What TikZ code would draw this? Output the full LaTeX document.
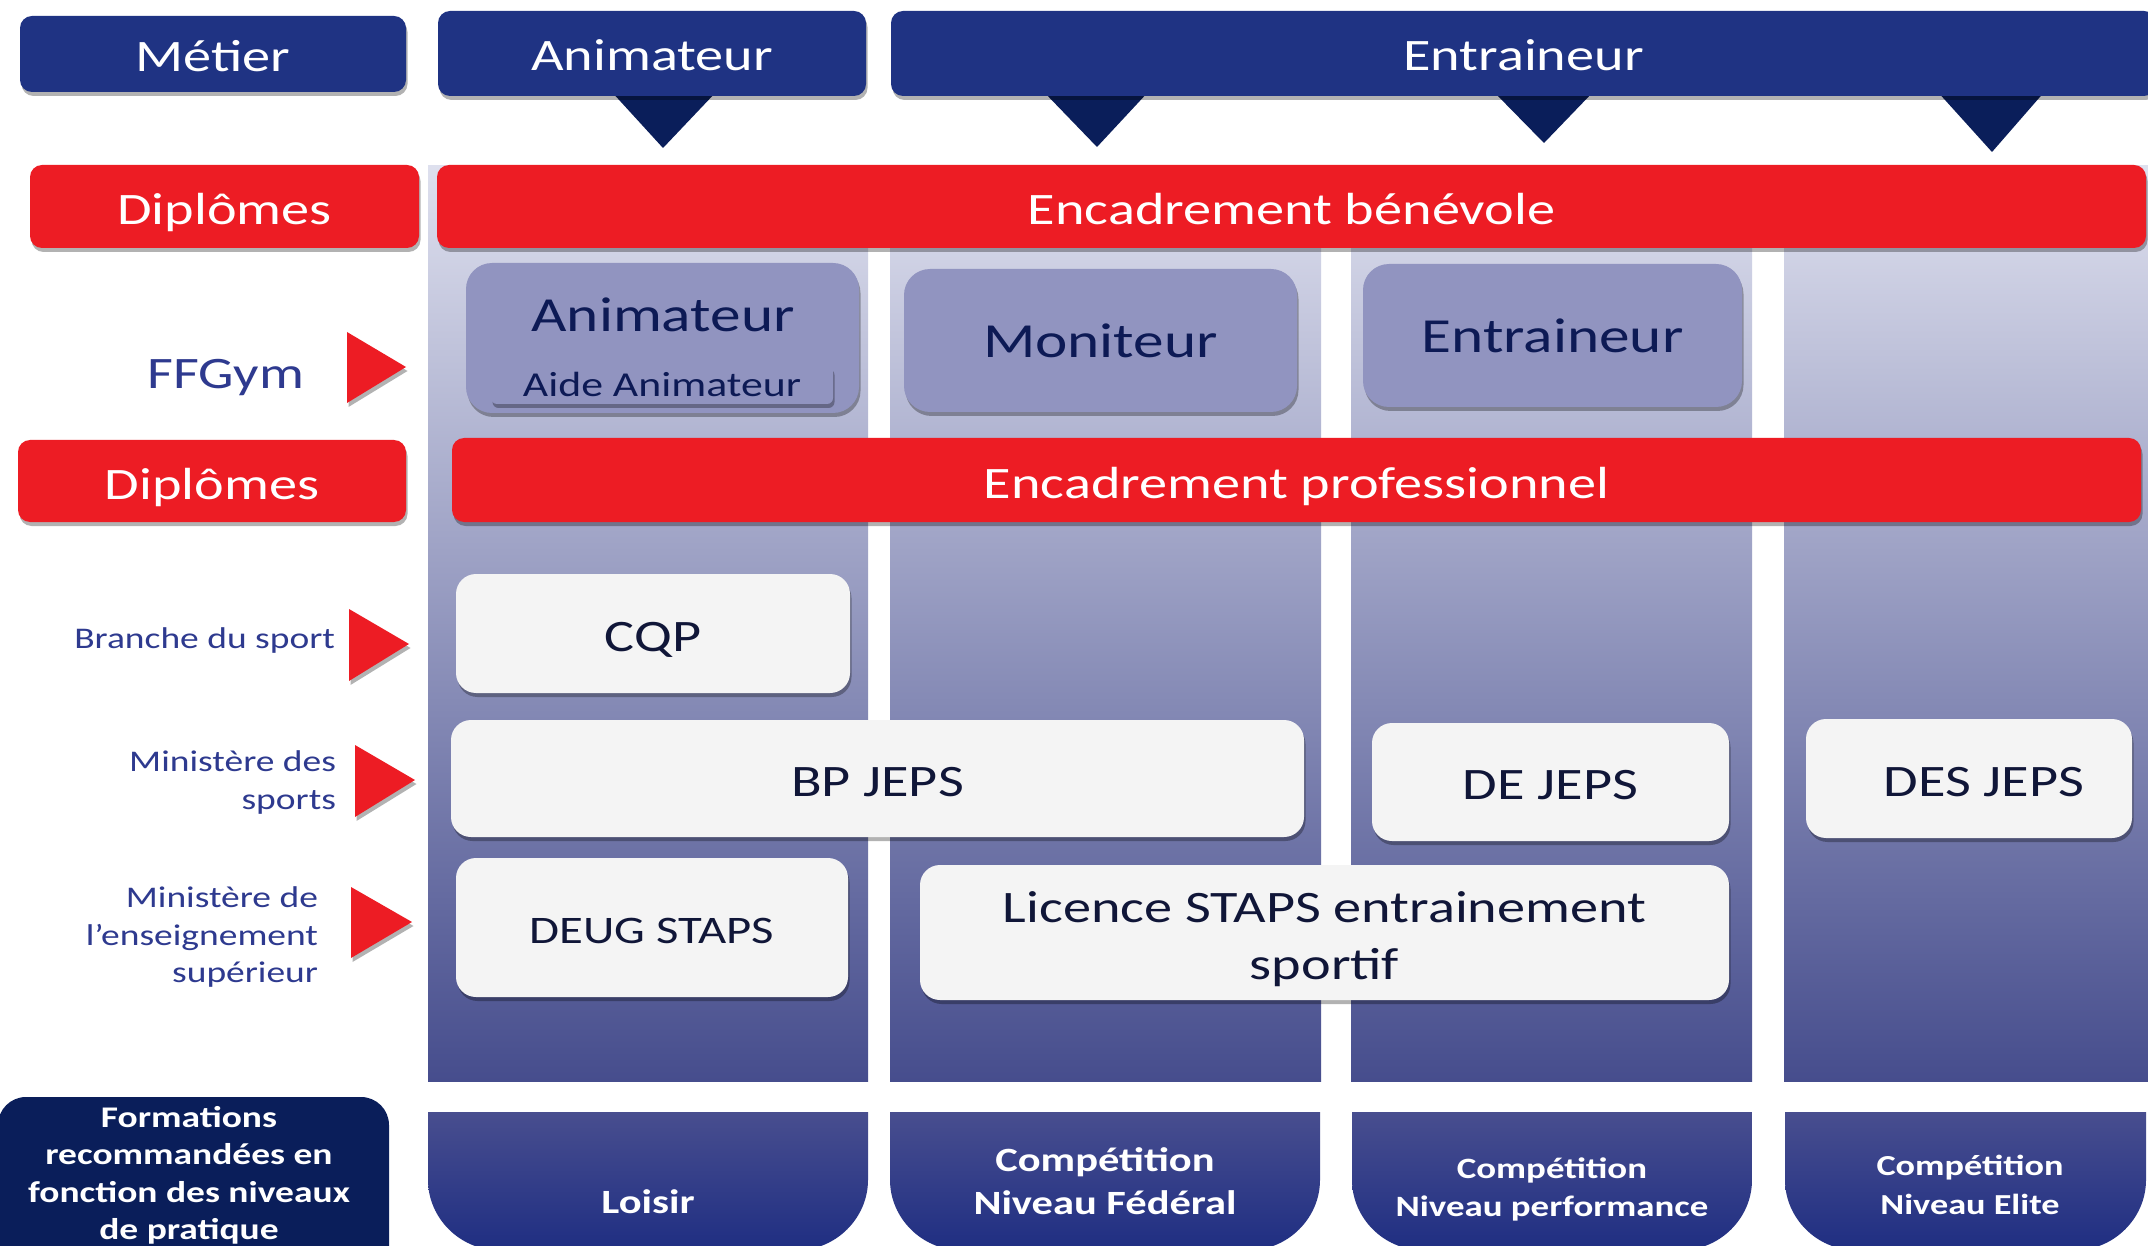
\documentclass[tikz,border=0pt]{standalone}
\usepackage{fontspec}
\setmainfont{Carlito}[FakeStretch=1.25]
\usetikzlibrary{shadows}
\definecolor{hdrblue}{RGB}{31,51,131}
\definecolor{navy}{RGB}{10,30,90}
\definecolor{myred}{RGB}{237,28,36}
\definecolor{lav}{RGB}{145,148,192}
\definecolor{coltop}{RGB}{222,224,238}
\definecolor{colmid}{RGB}{178,181,208}
\definecolor{colbot}{RGB}{70,77,141}
\definecolor{bottop}{RGB}{72,78,143}
\definecolor{botbot}{RGB}{31,46,130}
\definecolor{boxwhite}{RGB}{244,244,244}
\definecolor{labblue}{RGB}{46,58,143}
\definecolor{boxtext}{RGB}{16,22,56}
\definecolor{lavtext}{RGB}{13,26,85}
\newcommand{\fsz}[2]{\fontsize{#1}{#2}\selectfont}
\tikzset{
  shd/.style={drop shadow={shadow xshift=1.5pt, shadow yshift=-4pt, opacity=0.3, fill=black}},
  hdr/.style={shd, fill=hdrblue, rounded corners=12pt, text=white, font=\fsz{45}{54}, text height=35pt, text depth=0pt},
  redbar/.style={shd, fill=myred, rounded corners=12pt, text=white, font=\fsz{45}{54}, text height=36pt, text depth=0pt},
  lavbox/.style={shd, fill=lav, rounded corners=26pt, text=lavtext, font=\fsz{49}{58}, text height=33.5pt, text depth=0pt},
  wboxbase/.style={shd, fill=boxwhite, rounded corners=20pt, text=boxtext, font=\fsz{45}{57}},
  wbox/.style={wboxbase, text height=35pt, text depth=0pt},
  leftlab/.style={text=labblue, font=\fsz{30}{38}, align=right},
  botlab/.style={text=white, font=\bfseries\fsz{34}{43}, align=center},
  navytri/.style={fill=navy},
  redtri/.style={fill=myred, shd}
}
\begin{document}
\begin{tikzpicture}[x=1pt,y=-1pt, every node/.style={inner sep=0pt, outer sep=0pt}]
\useasboundingbox (0,0) rectangle (2148,1246);
\clip (0,0) rectangle (2148,1246);
\fill[white] (0,0) rectangle (2148,1246);

% columns
\foreach \a/\b in {428/868, 890/1321, 1351/1752, 1784/2160}{
  \shade[top color=coltop, middle color=colmid, bottom color=colbot] (\a,166) rectangle (\b,1081);
}
% bottom level boxes
\foreach \a/\b in {428/868, 890/1320, 1352/1752, 1785/2146}{
  \shade[top color=bottop, bottom color=botbot] (\a,1112) -- (\a,1180) .. controls (\a,1218) and (\a+32,1250) .. (\a+70,1250) -- (\b-70,1250) .. controls (\b-32,1250) and (\b,1218) .. (\b,1180) -- (\b,1112) -- cycle;
}
% formations box
\fill[navy, rounded corners=28pt] (-2,1097) rectangle (389,1300);
\node[botlab, font=\bfseries\fsz{30}{37.5}] (form) at (189,1175.5) {Formations\\recommandées en\\fonction des niveaux\\de pratique};

% navy triangles
\fill[navytri] (610,90) -- (718,90) -- (663,148) -- cycle;
\fill[navytri] (1042,90) -- (1150,90) -- (1097,147) -- cycle;
\fill[navytri] (1492,90) -- (1595,90) -- (1544,143) -- cycle;
\fill[navytri] (1936,90) -- (2046,90) -- (1992,152) -- cycle;

% headers
\node[hdr, minimum width=386pt, minimum height=76pt] (metier) at (213,54) {Métier};
\node[hdr, minimum width=428pt, minimum height=85pt] (hanim) at (652,53.5) {Animateur};
\node[hdr, minimum width=1265pt, minimum height=85pt] (hentr) at (1523.5,53.5) {Entraineur};

% red bars
\node[redbar, minimum width=389pt, minimum height=83pt] (dipl1) at (224.5,206.5) {Diplômes};
\node[redbar, minimum width=1709pt, minimum height=83pt] (benev) at (1291.5,206.5) {Encadrement bénévole};
\node[redbar, minimum width=388pt, minimum height=82pt] (dipl2) at (212,481) {Diplômes};
\node[redbar, minimum width=1689pt, minimum height=84pt] (prof) at (1296.5,480) {Encadrement professionnel};

% FFGym boxes
\node[lavbox, minimum width=393pt, minimum height=150pt] (ffani) at (662.5,338) {};
\node[font=\fsz{49}{58}, text=lavtext, anchor=base] (ffaniT) at (663,332) {Animateur};
\node[lavbox, rounded corners=6pt, minimum width=342pt, minimum height=39pt, font=\fsz{35}{42}, text height=23.5pt] (aide) at (662,384.5) {Aide Animateur};
\node[lavbox, minimum width=393pt, minimum height=143pt] (monit) at (1100.5,340.5) {Moniteur};
\node[lavbox, minimum width=379pt, minimum height=143pt] (ffent) at (1552.5,335.5) {Entraineur};

% diploma boxes
\node[wbox, minimum width=394pt, minimum height=119pt] (cqp) at (653,633.5) {CQP};
\node[wbox, minimum width=853pt, minimum height=117pt] (bpjeps) at (877.5,778.5) {BP JEPS};
\node[wbox, minimum width=357pt, minimum height=118pt] (dejeps) at (1550.5,782) {DE JEPS};
\node[wbox, minimum width=326pt, minimum height=119pt] (desjeps) at (1969,778.5) {\hspace*{30pt}DES JEPS};
\node[wbox, minimum width=392pt, minimum height=139pt, font=\fsz{39}{47}, text height=32pt] (deug) at (652,927.5) {DEUG STAPS};
\node[wboxbase, minimum width=809pt, minimum height=135pt] (licbox) at (1324.5,932.5) {};
\node[align=center, text=boxtext, font=\fsz{45}{57}] (lic) at (1324.5,939) {Licence STAPS entrainement\\sportif};

% left labels
\node[font=\fsz{45}{54}, text=labblue, anchor=base east] (ffgym) at (304,389) {FFGym};
\node[leftlab, anchor=base east] (branche) at (335,648) {Branche du sport};
\node[leftlab, anchor=east] (minsp) at (336,782) {Ministère des\\sports};
\node[leftlab, font=\fsz{30}{37.5}, anchor=east] (minens) at (318,937) {Ministère de\\l’enseignement\\supérieur};

% red pointers
\fill[redtri] (347,332) -- (347,403) -- (406,367) -- cycle;
\fill[redtri] (349,609) -- (349,681) -- (409,644) -- cycle;
\fill[redtri] (355,745) -- (355,817) -- (415,780) -- cycle;
\fill[redtri] (351,887) -- (351,958) -- (412,922) -- cycle;

% bottom labels
\node[botlab, anchor=base] (loisir) at (648,1213) {Loisir};
\node[botlab] (fed) at (1105,1181) {Compétition\\Niveau Fédéral};
\node[botlab, font=\bfseries\fsz{29.5}{38}] (perf) at (1552,1189.5) {Compétition\\Niveau performance};
\node[botlab, font=\bfseries\fsz{29}{39}] (elite) at (1970,1185) {Compétition\\Niveau Elite};
\end{tikzpicture}
\end{document}
